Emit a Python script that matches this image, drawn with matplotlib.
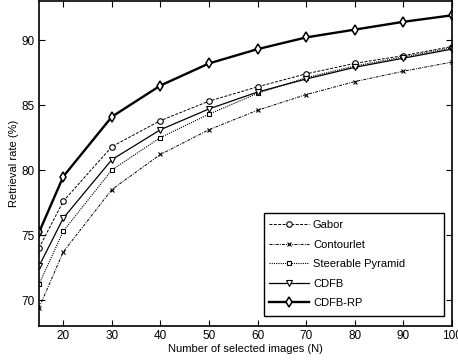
import numpy as np
import matplotlib
matplotlib.use("Agg")
import matplotlib.pyplot as plt
from matplotlib.patches import Rectangle

plt.rcParams['font.family'] = ['Liberation Sans', 'DejaVu Sans']

# dados
n_images = [15, 20, 30, 40, 50, 60, 70, 80, 90, 100]
gabor = [74.0, 77.6, 81.8, 83.8, 85.3, 86.4, 87.4, 88.2, 88.8, 89.5]
contourlet = [69.4, 73.7, 78.5, 81.2, 83.1, 84.6, 85.8, 86.8, 87.6, 88.3]
steerable = [71.2, 75.3, 80.0, 82.5, 84.3, 85.9, 87.1, 88.0, 88.7, 89.4]
cdfb = [72.6, 76.3, 80.8, 83.1, 84.7, 86.0, 87.0, 87.9, 88.6, 89.3]
cdfb_rp = [75.2, 79.5, 84.1, 86.5, 88.2, 89.3, 90.2, 90.8, 91.4, 91.9]

W, H = 458, 360
fig = plt.figure(figsize=(4.58, 3.6), dpi=100)
ax = fig.add_axes([39/W, 1 - 326/H, 413/W, 325/H])

mk = dict(markerfacecolor='white', markeredgecolor='black', color='black', mew=0.8)
ax.plot(n_images, gabor, marker='o', ms=4, lw=0.7, dashes=(3, 1.5), label='Gabor', **mk)
ax.plot(n_images, contourlet, marker='x', ms=3.5, lw=0.7, dashes=(3, 1.2, 1, 1.2), label='Contourlet', **mk)
ax.plot(n_images, steerable, marker='s', ms=3.5, lw=0.8, dashes=(1, 1), label='Steerable Pyramid', **mk)
ax.plot(n_images, cdfb, '-', marker='v', ms=5, lw=0.9, label='CDFB', **mk)
ax.plot(n_images, cdfb_rp, '-', marker='d', ms=5, lw=1.7, label='CDFB-RP',
        markerfacecolor='white', markeredgecolor='black', color='black', mew=1.1)

ax.set_xlim(15, 100)
ax.set_ylim(68, 93)
ax.set_xticks(range(20, 101, 10))
ax.set_yticks(range(70, 91, 5))
ax.tick_params(direction='in', top=True, right=True, labelsize=8.5, length=4, pad=3)
for s in ax.spines.values():
    s.set_linewidth(1.2)

ax.set_xlabel('Number of selected images (N)', fontsize=8, labelpad=1)
ax.set_ylabel('Retrieval rate (%)', fontsize=8, labelpad=2)

# caixa da legenda estilo matlab (mais larga que o texto)
box = Rectangle((264/W, 1 - 316/H), 180/W, 103/H, transform=fig.transFigure,
                facecolor='white', edgecolor='black', lw=1.0, zorder=4, clip_on=False)
ax.add_patch(box)
leg = ax.legend(loc='upper left', bbox_to_anchor=(269/W, 1 - 220/H),
                bbox_transform=fig.transFigure, fontsize=8, frameon=False,
                handlelength=3.6, handletextpad=0.35, labelspacing=0.86,
                borderpad=0, borderaxespad=0)
leg.set_zorder(5)

plt.savefig('out.png', dpi=100)
